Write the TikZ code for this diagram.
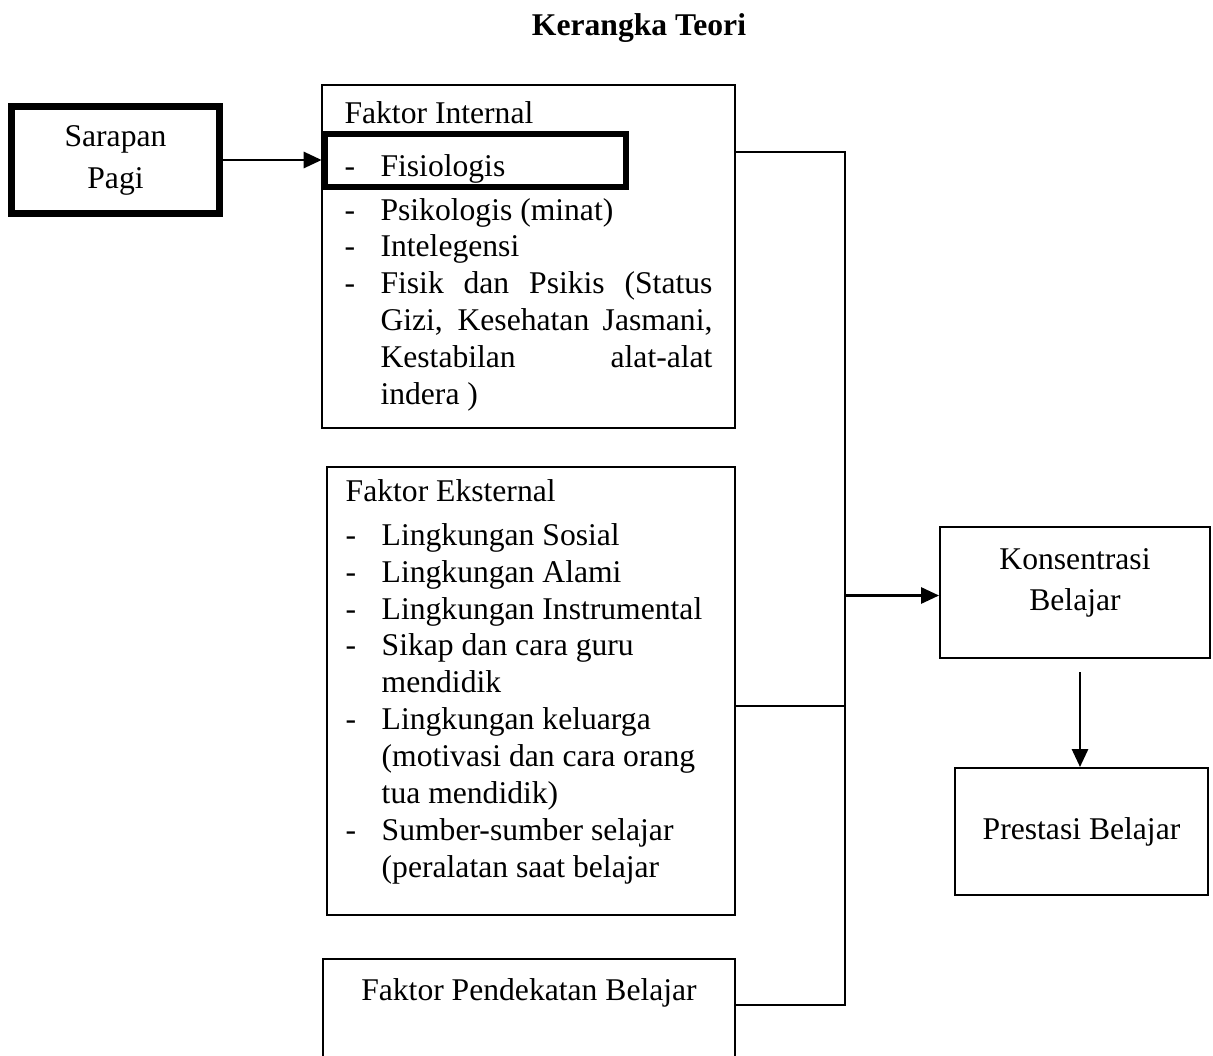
\documentclass[tikz,border=0pt]{standalone}
\usepackage{fontspec}
\setmainfont{Liberation Serif}
\usetikzlibrary{arrows.meta}

\begin{document}
\begin{tikzpicture}[
  x=0.02cm, y=-0.02cm,
  font=\fontsize{18}{21}\selectfont,
  box/.style={rectangle, draw=black, line width=1.1pt, inner sep=0pt},
  thickbox/.style={rectangle, draw=black, line width=3.8pt, inner sep=0pt},
  link/.style={draw=black, line width=1.1pt},
  arr/.style={draw=black, line width=1.6pt, -{Triangle[length=0.36cm, width=0.32cm]}}
]
  \clip (0,0) rectangle (1213,1055);

  % Judul
  \node[font=\fontsize{18}{21}\selectfont\bfseries] (judul) at (639,28) {Kerangka Teori};

  % Kotak kiri
  \node[thickbox, minimum width=4.16cm, minimum height=2.14cm] (sarapan) at (115.5,160)
    {\raisebox{-0.26cm}{\begin{tabular}{c}Sarapan\\[3pt]Pagi\end{tabular}}};

  % Faktor-faktor
  \node[box, minimum width=8.26cm, minimum height=6.86cm] (internal) at (528.5,256.5)
    {\raisebox{0.06cm}{\begin{tabular}{@{}p{0.72cm}@{}l@{}}
      \multicolumn{2}{@{}l@{}}{Faktor Internal}\\[0.32cm]
      - & Fisiologis\\[0.14cm]
      - & Psikologis (minat)\\
      - & Intelegensi\\
      - & \makebox[6.64cm][s]{Fisik dan Psikis (Status}\\
        & \makebox[6.64cm][s]{Gizi, Kesehatan Jasmani,}\\
        & \makebox[6.64cm][s]{Kestabilan alat-alat}\\
        & indera )
    \end{tabular}}};
  \node[thickbox, minimum width=6.02cm, minimum height=1.06cm] (fisio) at (475.5,160.5) {};

  \node[box, minimum width=8.16cm, minimum height=8.96cm] (eksternal) at (531,691)
    {\begin{tabular}{@{}p{0.72cm}@{}l@{\hspace{0.28cm}}}
      \multicolumn{2}{@{}l@{\hspace{0.28cm}}}{Faktor Eksternal}\\[0.14cm]
      - & Lingkungan Sosial\\
      - & Lingkungan Alami\\
      - & Lingkungan Instrumental\\
      - & Sikap dan cara guru\\
        & mendidik\\
      - & Lingkungan keluarga\\
        & (motivasi dan cara orang\\
        & tua mendidik)\\
      - & Sumber-sumber selajar\\
        & (peralatan saat belajar\\[0.36cm]
    \end{tabular}};

  \node[box, minimum width=8.24cm, minimum height=2.06cm] (pendekatan) at (529,1010.5)
    {\begin{tabular}{c}Faktor Pendekatan Belajar\\[0.7cm]\end{tabular}};

  % Kotak kanan
  \node[box, minimum width=5.4cm, minimum height=2.62cm] (konsentrasi) at (1075,592.5)
    {\begin{tabular}{c}Konsentrasi\\[2pt]Belajar\\[0.4cm]\end{tabular}};
  \node[box, minimum width=5.06cm, minimum height=2.54cm] (prestasi) at (1081.5,831.5)
    {\raisebox{-0.08cm}{Prestasi Belajar}};

  % Garis penghubung
  \coordinate (busatas) at (845,152);
  \coordinate (bustengah) at (845,706);
  \coordinate (busbawah) at (845,1005);
  \coordinate (turun) at (1080,672);

  \draw[arr] (sarapan.east) -- (fisio.west |- sarapan.east);
  \draw[link] (internal.east |- busatas) -- (busatas) -- (busbawah) -- (pendekatan.east |- busbawah);
  \draw[link] (eksternal.east |- bustengah) -- (bustengah);
  \draw[arr] ([yshift=-0.06cm]konsentrasi.west -| busatas) -- ([yshift=-0.06cm]konsentrasi.west);
  \draw[arr] (turun) -- (prestasi.north -| turun);
\end{tikzpicture}
\end{document}
